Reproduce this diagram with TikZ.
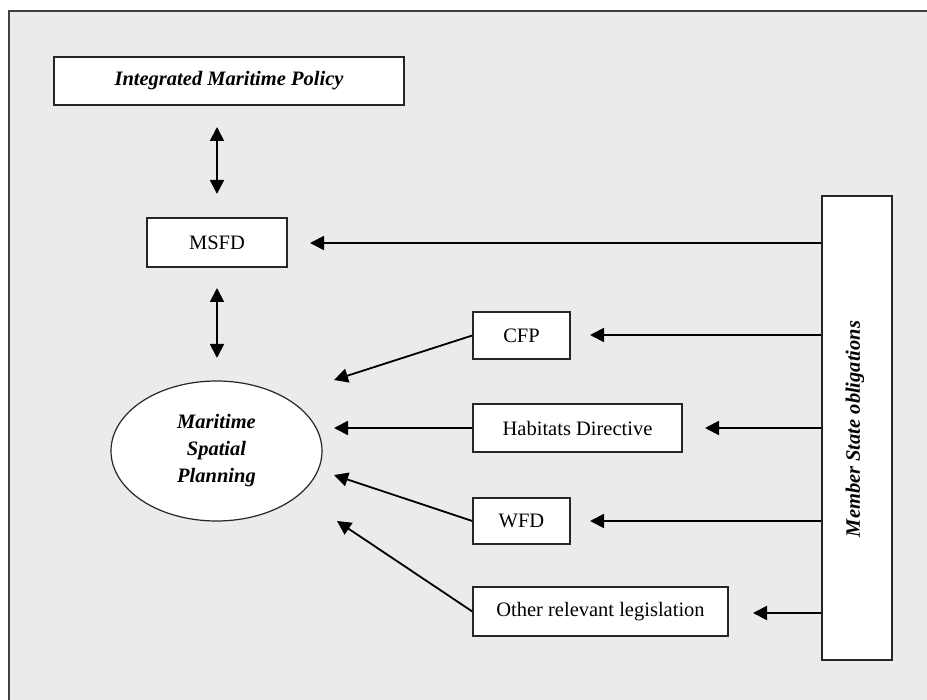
\documentclass[tikz,border=0pt]{standalone}
\usepackage{fontspec}
\setmainfont{Liberation Serif}
\usetikzlibrary{arrows.meta,shapes.geometric}
\definecolor{bgray}{HTML}{EBEBEB}
\definecolor{frame}{HTML}{404040}
\tikzset{
  box/.style={draw=black!85, line width=1.4pt, fill=white, inner sep=0pt, minimum height=47pt, font=\fontsize{20.5}{24}\selectfont},
  bi/.style={font=\fontsize{20.5}{27}\selectfont\bfseries\itshape},
  arr/.style={line width=1.8pt, -{Triangle[length=14pt,width=14pt]}},
  darr/.style={line width=1.8pt, {Triangle[length=14pt,width=14pt]}-{Triangle[length=14pt,width=14pt]}}
}
\begin{document}
\begin{tikzpicture}[x=1pt,y=-1pt]
\useasboundingbox (0,0) rectangle (927,700);
\clip (0,0) rectangle (927,700);
\fill[white] (0,0) rectangle (927,700);
\draw[frame, line width=2pt, fill=bgray] (9,11) rectangle (960,740);

\node[box, bi, minimum width=350pt, minimum height=48pt] (imp) at (229,81) {Integrated Maritime Policy};
\node[box, minimum width=140pt, minimum height=49pt] (msfd) at (217,242.5) {MSFD};
\node[draw=black!85, line width=1.2pt, fill=white, ellipse, minimum width=211pt, minimum height=140pt, inner sep=0pt, align=center, bi] (msp) at (216.5,451) {Maritime\\Spatial\\Planning};
\node[box, minimum width=97pt] (cfp) at (521.5,335.5) {CFP};
\node[box, minimum width=209pt, minimum height=48pt] (hab) at (577.5,428) {Habitats Directive};
\node[box, minimum width=97pt, minimum height=46pt] (wfd) at (521.5,521) {WFD};
\node[box, minimum width=255pt, minimum height=49pt] (oth) at (600.5,611.5) {Other relevant legislation};
\node[box, minimum width=70pt, minimum height=464pt] (mso) at (857,428) {};
\node[bi, rotate=90] (msotxt) at (855,429) {Member State obligations};

% double arrows
\coordinate (d1a) at (217,127);
\coordinate (d1b) at (217,194);
\coordinate (d2a) at (217,288);
\coordinate (d2b) at (217,358);
\draw[darr] (d1a) -- (d1b);
\draw[darr] (d2a) -- (d2b);

% from member state obligations
\coordinate (t1) at (310,243);
\coordinate (t2) at (590,335);
\coordinate (t3) at (705,428);
\coordinate (t4) at (590,521);
\coordinate (t5) at (753,613);
\draw[arr] (mso.west |- t1) -- (t1);
\draw[arr] (mso.west |- t2) -- (t2);
\draw[arr] (mso.west |- t3) -- (t3);
\draw[arr] (mso.west |- t4) -- (t4);
\draw[arr] (mso.west |- t5) -- (t5);

% into MSP
\coordinate (m1) at (334,380);
\coordinate (m2) at (334,428);
\coordinate (m3) at (334,475);
\coordinate (m4) at (337,521);
\draw[arr] (cfp.west) -- (m1);
\draw[arr] (hab.west) -- (m2);
\draw[arr] (wfd.west) -- (m3);
\draw[arr] (oth.west) -- (m4);
\end{tikzpicture}
\end{document}
